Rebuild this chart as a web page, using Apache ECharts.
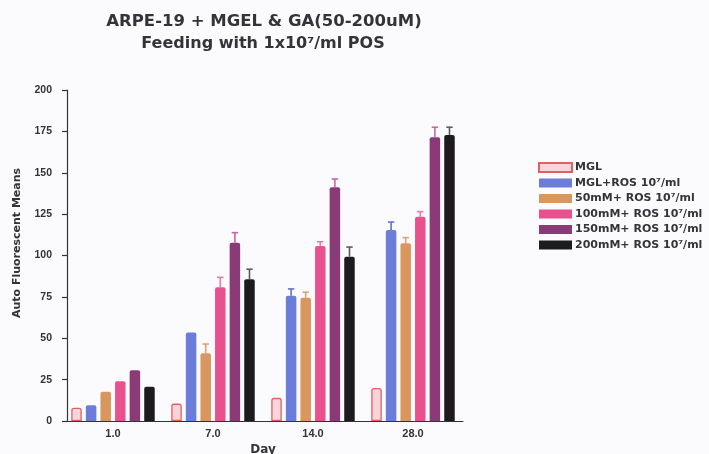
<!DOCTYPE html>
<html>
<head>
<meta charset="utf-8">
<script src="https://cdn.jsdelivr.net/npm/echarts@6/dist/echarts.min.js"></script>
<style>
  html, body { margin: 0; padding: 0; background: #fbfbfe; }
  #chart { width: 709px; height: 454px; }
</style>
</head>
<body>
<div id="chart"></div>
<script>
// Day of measurement
const categories = ['1.0', '7.0', '14.0', '28.0'];

// Group names
const seriesNames = [
  'MGL',
  'MGL+ROS 10\u2077/ml',
  '50mM+ ROS 10\u2077/ml',
  '100mM+ ROS 10\u2077/ml',
  '150mM+ ROS 10\u2077/ml',
  '200mM+ ROS 10\u2077/ml'
];

// Mean auto-fluorescence per group and day
const mgl      = [8.0, 10.5, 14.0, 20.0];
const mglRos   = [9.5, 53.5, 75.7, 115.4];
const mm50Ros  = [17.7, 40.9, 74.5, 107.4];
const mm100Ros = [24.0, 80.8, 105.7, 123.4];
const mm150Ros = [30.6, 107.7, 141.2, 171.4];
const mm200Ros = [20.7, 85.6, 99.3, 172.8];

// Upper error (SEM) per group and day
const mglErr      = [0, 0, 0, 0];
const mglRosErr   = [0, 0, 4.1, 4.8];
const mm50RosErr  = [0, 5.6, 3.3, 3.4];
const mm100RosErr = [0, 6.0, 2.6, 3.1];
const mm150RosErr = [0, 6.1, 5.0, 6.1];
const mm200RosErr = [0, 6.1, 5.8, 4.7];

// Y axis ticks
const yMin = 0, yMax = 200, yStep = 25;

const values = [mgl, mglRos, mm50Ros, mm100Ros, mm150Ros, mm200Ros];
const errors = [mglErr, mglRosErr, mm50RosErr, mm100RosErr, mm150RosErr, mm200RosErr];

const fills   = ['#f8d4dc', '#6b7dd8', '#d9975f', '#e8508e', '#8a3b77', '#1d1b1e'];
const borders = ['#e2605f', '#6b7dd8', '#d9975f', '#e8508e', '#8a3b77', '#1d1b1e'];
const errColors = ['#e2605f', '#6070c8', '#e0a070', '#ec78a4', '#c866a2', '#5a5a60'];

const BAR_W = 10.5;
const BAR_GAP = 0.39;
const N = values.length;

const series = [];
values.forEach(function (vals, i) {
  series.push({
    name: seriesNames[i],
    type: 'bar',
    data: vals,
    barWidth: BAR_W,
    barGap: (BAR_GAP * 100) + '%',
    itemStyle: {
      color: fills[i],
      borderColor: borders[i],
      borderWidth: i === 0 ? 1.3 : 0,
      borderRadius: [2, 2, 0, 0]
    },
    z: 2
  });
});

values.forEach(function (vals, i) {
  const offset = (i - (N - 1) / 2) * BAR_W * (1 + BAR_GAP);
  series.push({
    type: 'custom',
    name: seriesNames[i],
    data: vals.map(function (v, k) { return [k, v, errors[i][k]]; }),
    z: 3,
    silent: true,
    renderItem: function (params, api) {
      const err = api.value(2);
      if (!err) return null;
      const base = api.coord([api.value(0), api.value(1)]);
      const top = api.coord([api.value(0), api.value(1) + err]);
      const x = base[0] + offset;
      const style = { stroke: errColors[i], lineWidth: 1.6 };
      return {
        type: 'group',
        children: [
          { type: 'line', shape: { x1: x, y1: base[1], x2: x, y2: top[1] }, style: style },
          { type: 'line', shape: { x1: x - 3.2, y1: top[1], x2: x + 3.2, y2: top[1] }, style: style }
        ]
      };
    }
  });
});

const chart = echarts.init(document.getElementById('chart'), null, { renderer: 'canvas' });
const textColor = '#333338';
const boldFont = 'DejaVu Sans';

chart.setOption({
  backgroundColor: '#fbfbfe',
  animation: false,
  grid: { left: 63, right: 246, top: 90, bottom: 33, containLabel: false, outerBoundsMode: 'none' },
  legend: {
    orient: 'vertical',
    left: 533,
    top: 157,
    icon: 'rect',
    itemWidth: 33,
    itemHeight: 9,
    itemGap: 4.5,
    data: seriesNames,
    textStyle: {
      fontFamily: boldFont,
      fontWeight: 'bold',
      fontSize: 11,
      lineHeight: 10,
      color: textColor,
      padding: [0, 0, 0, -2]
    }
  },
  xAxis: {
    type: 'category',
    data: categories,
    name: 'Day',
    nameLocation: 'middle',
    nameGap: 22,
    nameTextStyle: { fontFamily: boldFont, fontWeight: 'bold', fontSize: 12, color: textColor },
    axisLine: { lineStyle: { color: '#333', width: 1.2 } },
    axisTick: { show: false },
    axisLabel: {
      margin: 7,
      fontFamily: 'Liberation Sans',
      fontWeight: 'bold',
      fontSize: 11,
      color: textColor
    }
  },
  yAxis: {
    type: 'value',
    min: yMin,
    max: yMax,
    interval: yStep,
    offset: -4,
    splitLine: { show: false },
    axisLine: { show: true, lineStyle: { color: '#333', width: 1.2 } },
    axisTick: { show: true, length: 5, lineStyle: { color: '#333', width: 1.2 } },
    axisLabel: {
      margin: 15,
      fontFamily: 'Liberation Sans',
      fontWeight: 'bold',
      fontSize: 10.5,
      color: textColor
    }
  },
  graphic: [
    {
      type: 'text',
      x: 264, y: 22,
      style: {
        text: 'ARPE-19 + MGEL & GA(50-200uM)',
        fill: textColor,
        font: 'bold 16.5px "DejaVu Sans"',
        textAlign: 'center',
        textVerticalAlign: 'middle'
      }
    },
    {
      type: 'text',
      x: 263, y: 44,
      style: {
        text: 'Feeding with 1x10\u2077/ml POS',
        fill: textColor,
        font: 'bold 16px "DejaVu Sans"',
        textAlign: 'center',
        textVerticalAlign: 'middle'
      }
    },
    {
      type: 'text',
      x: 17, y: 243,
      rotation: Math.PI / 2,
      style: {
        text: 'Auto Fluorescent Means',
        fill: textColor,
        font: 'bold 11px "DejaVu Sans"',
        textAlign: 'center',
        textVerticalAlign: 'middle'
      }
    }
  ],
  series: series
});
</script>
</body>
</html>
